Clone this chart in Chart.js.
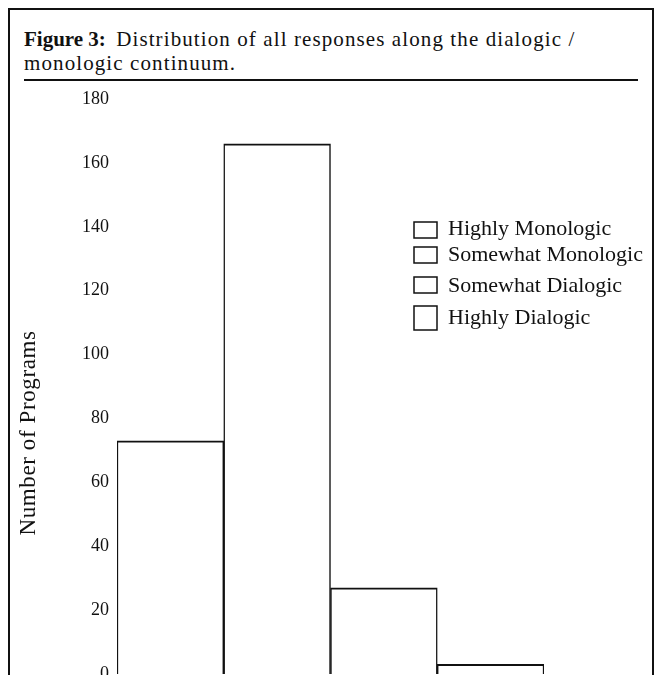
<!DOCTYPE html>
<html>
<head>
<meta charset="utf-8">
<script src="https://cdn.jsdelivr.net/npm/chart.js@4.4.0/dist/chart.umd.min.js"></script>
<style>
  html, body { margin: 0; padding: 0; background: #fff; width: 658px; height: 675px; overflow: hidden; }
  .frame { position: absolute; left: 8px; top: 8px; width: 642px; height: 720px; border: 2px solid #111; border-bottom: none; }
  .title { position: absolute; left: 24px; top: 27px; font-family: "Liberation Serif", serif; font-size: 21px; line-height: 24px; color: #111; letter-spacing: 1.1px; }
  .title b { font-weight: bold; letter-spacing: 0; margin-right: 4px; }
  .rule { position: absolute; left: 24px; top: 79px; width: 614px; height: 2px; background: #111; }
  .wrap { position: absolute; left: 0; top: 0; width: 658px; height: 700px; }
</style>
</head>
<body>
<div class="frame"></div>
<div class="title"><b>Figure 3:</b> Distribution of all responses along the dialogic /<br>monologic continuum.</div>
<div class="rule"></div>
<div class="wrap"><canvas id="fig3"></canvas></div>
<script>
const categories = ['Highly Monologic', 'Somewhat Monologic', 'Somewhat Dialogic', 'Highly Dialogic'];
const programCounts = [73, 166, 27, 3];
const yAxisTitle = 'Number of Programs';
const yMin = 0;
const yMax = 180;
const yStep = 20;

const serif = '"Liberation Serif", serif';

// legend drawn inside the plot, like in the scanned figure
const boxLegend = {
  id: 'boxLegend',
  afterDraw(chart) {
    const ctx = chart.ctx;
    const boxTops = [222, 247, 277, 306];
    const boxHeights = [16, 16, 16, 24];
    const textY = [229, 255, 286, 318];
    ctx.save();
    ctx.strokeStyle = '#111';
    ctx.lineWidth = 1.5;
    ctx.fillStyle = '#111';
    ctx.font = '22px ' + serif;
    ctx.textBaseline = 'middle';
    chart.data.labels.forEach((label, i) => {
      ctx.strokeRect(414, boxTops[i], 23, boxHeights[i]);
      ctx.fillText(label, 448, textY[i]);
    });
    ctx.restore();
  }
};

// y axis title, placed lower than the axis centre
const sideTitle = {
  id: 'sideTitle',
  afterDraw(chart) {
    const ctx = chart.ctx;
    ctx.save();
    ctx.translate(29, 433);
    ctx.rotate(-Math.PI / 2);
    ctx.fillStyle = '#111';
    ctx.font = '23px ' + serif;
    if ('letterSpacing' in ctx) ctx.letterSpacing = '0.6px';
    ctx.textAlign = 'center';
    ctx.textBaseline = 'middle';
    ctx.fillText(yAxisTitle, 0, 0);
    ctx.restore();
  }
};

new Chart(document.getElementById('fig3'), {
  type: 'bar',
  data: {
    labels: categories,
    datasets: [{
      label: yAxisTitle,
      data: programCounts,
      backgroundColor: '#fff',
      borderColor: '#111',
      borderWidth: { top: 2, left: 1.5, right: 1.5 },
      barPercentage: 1,
      categoryPercentage: 1
    }]
  },
  options: {
    responsive: true,
    maintainAspectRatio: false,
    animation: false,
    layout: { padding: { top: 99, right: 114, bottom: 26, left: 0 } },
    plugins: {
      legend: { display: false },
      tooltip: { enabled: false }
    },
    scales: {
      x: { display: false },
      y: {
        min: yMin,
        max: yMax,
        ticks: { stepSize: yStep, padding: 8, color: '#111', font: { family: serif, size: 18 } },
        grid: { display: false, drawTicks: false },
        border: { display: false },
        afterFit(scale) { scale.width = 117; }
      }
    }
  },
  plugins: [boxLegend, sideTitle]
});
</script>
</body>
</html>
